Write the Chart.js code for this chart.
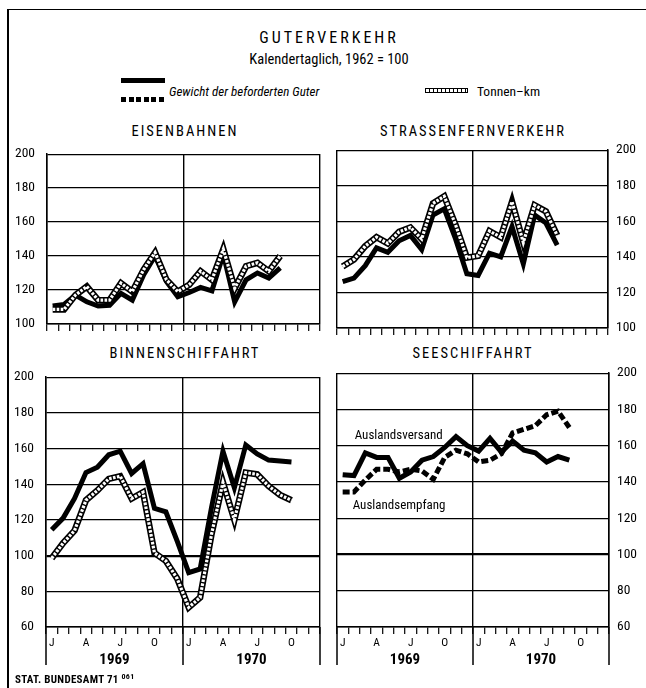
<!DOCTYPE html>
<html>
<head>
<meta charset="utf-8">
<script src="https://cdn.jsdelivr.net/npm/chart.js@4.4.1/dist/chart.umd.min.js"></script>
<style>
  body { margin: 0; background: #fff; }
  #page {
    position: relative; width: 646px; height: 688px; overflow: hidden; background: #fff;
    font-family: "Roboto Condensed", "DejaVu Sans Condensed", sans-serif; color: #000;
  }
  .txt { position: absolute; white-space: nowrap; transform: translate(-50%, -50%); }
  .title { font-size: 14.5px; letter-spacing: 2px; }
  canvas { position: absolute; }
  #frame { position: absolute; left: 7px; top: 9px; width: 650px; height: 700px;
    border-left: 2px solid #000; border-top: 1.5px solid #000; }
  .key { position: absolute; }
</style>
</head>
<body>
<div id="page">
  <div id="frame"></div>

  <div class="txt" style="left:329px; top:37px; font-size:16px; letter-spacing:3px;">GUTERVERKEHR</div>
  <div class="txt" style="left:329px; top:59px; font-size:14.5px;">Kalendertaglich, 1962 = 100</div>

  <div class="key" style="left:121px; top:78px; width:44px; height:5px; background:#000;"></div>
  <div class="key" style="left:121px; top:97px; width:44px; height:5px;
       background:repeating-linear-gradient(90deg,#000 0 5px,transparent 5px 7.5px);"></div>
  <div class="txt" style="left:169px; top:91px; transform:translate(0,-50%); font-size:13px; font-style:italic;">Gewicht der beforderten Guter</div>
  <div class="key" style="left:425px; top:88px; width:41px; height:3px; border:1px solid #000;
       background:repeating-linear-gradient(90deg,#fff 0 3px,#000 3px 4px);"></div>
  <div class="txt" style="left:477px; top:91px; transform:translate(0,-50%); font-size:13.5px;">Tonnen–km</div>

  <div class="txt title" style="left:185px; top:131px;">EISENBAHNEN</div>
  <div class="txt title" style="left:473px; top:131px;">STRASSENFERNVERKEHR</div>
  <div class="txt title" style="left:185px; top:353px;">BINNENSCHIFFAHRT</div>
  <div class="txt title" style="left:473px; top:353px;">SEESCHIFFAHRT</div>

  <canvas id="eb"></canvas>
  <canvas id="sf"></canvas>
  <canvas id="bs"></canvas>
  <canvas id="ss"></canvas>

  <div class="txt" style="left:15px; top:679px; transform:translate(0,-50%); font-size:11px; font-weight:bold; letter-spacing:0.3px;">STAT. BUNDESAMT 71 <sup style="font-size:8px;">061</sup></div>
</div>

<script>
const months = ['J','F','M','A','M','J','J','A','S','O','N','D','J','F','M','A','M','J','J','A','S','O','N','D'];
const years = ['1969', '1970'];
const shownMonths = [0, 3, 6, 9, 12, 15, 18, 21];

// Eisenbahnen
const ebGewicht = [110.5, 111.5, 117, 113, 110.5, 111, 118, 114, 129, 140, 125, 116, 118.5, 121.5, 119.5, 141, 113, 126, 130, 127, 133];
const ebTkm = [108.5, 108.5, 117, 122, 114, 114, 124, 119, 132, 142, 126, 119, 123, 131, 126, 144, 121, 134, 136, 131, 140];
// Strassenfernverkehr
const sfGewicht = [126, 128, 135, 145, 142.5, 149, 152, 144, 163.5, 167, 150, 130.5, 129.5, 142, 140, 157, 136, 163.5, 159, 146.5];
const sfTkm = [134.5, 138.5, 146, 151, 147.5, 154, 156.5, 150, 170, 174, 158, 139.5, 140.5, 154.5, 151, 171, 148, 169, 165.5, 152];
// Binnenschiffahrt
const bsGewicht = [114.5, 121, 132, 146.5, 149.5, 156.5, 158.5, 146, 151.5, 126.5, 124.5, 108, 90.5, 92.5, 127, 158.5, 138, 162, 157, 153.5, 153, 152.5];
const bsTkm = [98.5, 107, 114, 131, 136.5, 143, 144.5, 132, 135.5, 101.5, 97, 87, 71, 76.5, 112, 141, 120, 146.5, 145.5, 139, 134, 131];
// Seeschiffahrt
const ssVersand = [144, 143.5, 156, 153.5, 153.5, 142, 145.5, 152, 154, 159, 165, 160, 157, 164, 156.5, 162.5, 157.5, 156, 151, 154, 152];
const ssEmpfang = [134.5, 134.5, 141, 147, 147, 145.5, 147, 146, 141.5, 153.5, 157.5, 155.5, 151, 152, 155.5, 167, 169, 171, 177, 179, 170];

const FONT = '"Roboto Condensed", "DejaVu Sans Condensed", sans-serif';
Chart.defaults.font.family = FONT;
Chart.defaults.color = '#000';

const solid = data => ({ data, borderColor: '#000', borderWidth: 5, order: 3 });
const dashed = data => ({ data, borderColor: '#000', borderWidth: 5, borderDash: [7, 3], order: 3 });
const hatched = data => [
  { data, borderColor: '#000', borderWidth: 6.5, order: 2 },
  { data, borderColor: '#fff', borderWidth: 3.2, borderDash: [2.6, 1.4], order: 1 }
];

// frame lines under the month axis, down to the year labels
const yearFrame = {
  id: 'yearFrame',
  afterDraw(chart, args, opts) {
    if (!opts.bottom) return;
    const { ctx, chartArea, scales: { x } } = chart;
    const mid = (x.getPixelForValue(11) + x.getPixelForValue(12)) / 2;
    ctx.save();
    ctx.strokeStyle = '#000';
    ctx.lineWidth = 1.5;
    [chartArea.left, mid, chartArea.right].forEach(px => {
      ctx.beginPath();
      ctx.moveTo(px, chartArea.bottom);
      ctx.lineTo(px, opts.bottom);
      ctx.stroke();
    });
    ctx.restore();
  }
};

const seeLabels = {
  id: 'seeLabels',
  afterDatasetsDraw(chart, args, opts) {
    if (!opts.on) return;
    const { ctx, scales: { x, y } } = chart;
    ctx.save();
    ctx.font = '13px ' + FONT;
    ctx.fillStyle = '#000';
    ctx.textBaseline = 'middle';
    ctx.fillText('Auslandsversand', x.getPixelForValue(0) + 12, y.getPixelForValue(165.5));
    ctx.fillText('Auslandsempfang', x.getPixelForValue(0) + 10, y.getPixelForValue(127));
    ctx.restore();
  }
};

function panel(id, box, plot, yMin, yMax, side, datasets, withMonths, labels) {
  const cv = document.getElementById(id);
  cv.width = box.w; cv.height = box.h;
  cv.style.left = box.x + 'px'; cv.style.top = box.y + 'px';

  const left = side === 'left';
  const yW = left ? plot.l - box.x : box.x + box.w - plot.r;
  const padL = left ? 0 : plot.l - box.x;
  const padR = left ? box.x + box.w - plot.r : 0;
  const padT = plot.t - box.y;
  const below = box.y + box.h - plot.b;
  const xH = withMonths ? 22 : below;
  const x2H = below - xH;

  new Chart(cv, {
    type: 'line',
    data: { labels: months, datasets },
    options: {
      responsive: false,
      animation: false,
      devicePixelRatio: 1,
      layout: { padding: { left: padL, right: padR, top: padT, bottom: 0 } },
      elements: { point: { radius: 0 }, line: { tension: 0, borderJoinStyle: 'miter', borderCapStyle: 'butt' } },
      plugins: {
        legend: { display: false },
        tooltip: { enabled: false },
        yearFrame: { bottom: withMonths ? 665 - box.y : 0 },
        seeLabels: { on: !!labels }
      },
      scales: {
        x: {
          type: 'category',
          offset: true,
          grid: {
            offset: true,
            drawOnChartArea: true,
            tickLength: 7,
            lineWidth: 1.4,
            color: c => (c.index === undefined || c.index === 0 || c.index === 12) ? '#000' : 'rgba(0,0,0,0)',
            tickColor: '#000',
            tickWidth: 1.2
          },
          border: { display: true, color: '#000', width: 1.5 },
          ticks: {
            display: withMonths,
            autoSkip: false,
            maxRotation: 0,
            padding: 2,
            font: { size: 11.5 },
            callback: (v, i) => shownMonths.includes(i) ? months[i] : ''
          },
          afterFit: s => { s.height = xH; }
        },
        x2: {
          type: 'category',
          labels: years,
          offset: true,
          position: 'bottom',
          display: withMonths,
          grid: { display: false, drawTicks: false },
          border: { display: false },
          ticks: { font: { size: 15, weight: 'bold' }, padding: 2 },
          afterFit: s => { s.height = x2H; }
        },
        y: {
          position: side,
          min: yMin,
          max: yMax,
          ticks: { stepSize: 20, font: { size: 13.5 }, padding: left ? 12 : 8 },
          grid: {
            color: '#000',
            lineWidth: c => (yMin < 100 && c.tick && c.tick.value === 100) ? 2.2 : 1.2,
            drawTicks: false
          },
          border: { display: true, color: '#000', width: 1.5 },
          afterFit: s => { s.width = yW; }
        }
      }
    },
    plugins: [yearFrame, seeLabels]
  });
}

panel('eb', { x: 0, y: 134, w: 328, h: 210 }, { l: 47, t: 144, r: 320, b: 329 }, 100, 200, 'left',
  [solid(ebGewicht), ...hatched(ebTkm)], false);
panel('sf', { x: 328, y: 134, w: 318, h: 210 }, { l: 337, t: 144, r: 608, b: 329 }, 100, 200, 'right',
  [solid(sfGewicht), ...hatched(sfTkm)], false);
panel('bs', { x: 0, y: 357, w: 328, h: 315 }, { l: 46, t: 367, r: 320, b: 627 }, 60, 200, 'left',
  [solid(bsGewicht), ...hatched(bsTkm)], true);
panel('ss', { x: 328, y: 357, w: 318, h: 315 }, { l: 337, t: 367, r: 609, b: 627 }, 60, 200, 'right',
  [solid(ssVersand), dashed(ssEmpfang)], true, true);
</script>
</body>
</html>
